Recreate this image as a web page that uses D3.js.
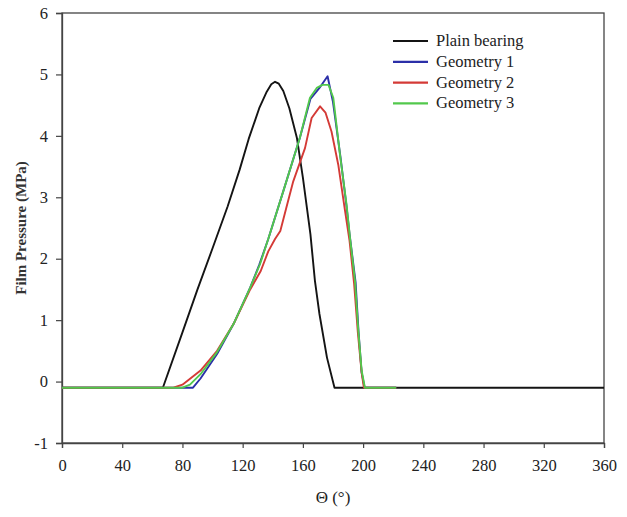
<!DOCTYPE html>
<html><head><meta charset="utf-8">
<script src="https://cdn.jsdelivr.net/npm/d3@7"></script>
<style>body{margin:0;background:#fff}svg{display:block}</style>
</head><body>
<svg id="c" width="627" height="517"></svg>
<script>
const xTicks = [0,40,80,120,160,200,240,280,320,360];
const yTicks = [-1,0,1,2,3,4,5,6];
const seriesNames = ["Plain bearing","Geometry 1","Geometry 2","Geometry 3"];
const seriesColors = ["#141414","#2b2fa8","#d43a36","#52c84c"];

const plainTheta = [0,67,80,90,100,110,118,124,131,136,139,141.5,144,147,151,156,160,165,168,171,176,181,360];
const plainP     = [-0.1,-0.1,0.8,1.5,2.17,2.85,3.45,3.95,4.45,4.72,4.84,4.88,4.85,4.73,4.45,3.97,3.32,2.4,1.64,1.1,0.39,-0.1,-0.1];

const geo1Theta = [0,87,92,103,114,125,131,137,147,158,165,169,171,176.4,180,185,189,191,195,197,199,201,222];
const geo1P     = [-0.1,-0.1,0.05,0.45,0.94,1.53,1.9,2.32,3.1,3.97,4.6,4.72,4.78,4.97,4.55,3.65,2.85,2.4,1.62,0.8,0.15,-0.1,-0.1];

const geo2Theta = [0,74,80,92,103,114,125,132,137,141.5,145,149,153.6,161.4,165.8,171.4,175,179,183.5,188,191,194,196.5,199,200.5,222];
const geo2P     = [-0.1,-0.1,-0.05,0.18,0.5,0.94,1.5,1.8,2.12,2.32,2.45,2.83,3.26,3.8,4.29,4.48,4.38,4.07,3.53,2.78,2.29,1.6,0.8,0.15,-0.1,-0.1];

const geo3Theta = [0,80,85,92,103,114,125,131.5,137,147,158,164.7,169.2,173,177,180.2,184.6,189,191.3,194.6,196.8,199,201.2,222];
const geo3P     = [-0.1,-0.1,-0.05,0.12,0.48,0.94,1.53,1.91,2.32,3.1,3.97,4.62,4.78,4.83,4.83,4.62,3.7,2.88,2.34,1.64,0.83,0.18,-0.1,-0.1];

const series = [
  {theta: plainTheta, p: plainP},
  {theta: geo1Theta, p: geo1P},
  {theta: geo2Theta, p: geo2P},
  {theta: geo3Theta, p: geo3P}
];

const svg = d3.select("#c");
const L = 62, R = 604, T = 13, B = 443;
const x = d3.scaleLinear().domain([0,360]).range([L,R]);
const y = d3.scaleLinear().domain([-1,6]).range([B,T]);
const font = "'Liberation Serif', 'Times New Roman', serif";

// frame
svg.append("rect").attr("x",L).attr("y",T).attr("width",R-L).attr("height",B-T)
  .attr("fill","none").attr("stroke","#444").attr("stroke-width",1.3);

const xAxis = svg.append("g").attr("transform",`translate(0,${B})`)
  .call(d3.axisBottom(x).tickValues(xTicks).tickSize(5).tickPadding(11).tickFormat(d=>String(d)));
const yAxis = svg.append("g").attr("transform",`translate(${L},0)`)
  .call(d3.axisLeft(y).tickValues(yTicks).tickSize(6).tickPadding(8).tickFormat(d=>String(d)));
[xAxis,yAxis].forEach(a=>{
  a.select(".domain").attr("stroke","#444").attr("stroke-width",1.3);
  a.selectAll(".tick line").attr("stroke","#444").attr("stroke-width",1.2);
  a.selectAll(".tick text").attr("font-family",font).attr("font-size",16.5).attr("fill","#222");
});

const line = d3.line().x(d=>x(d[0])).y(d=>y(d[1]));
series.forEach((s,i)=>{
  const pts = s.theta.map((t,j)=>[t,s.p[j]]);
  svg.append("path").datum(pts).attr("d",line).attr("fill","none")
    .attr("stroke",seriesColors[i]).attr("stroke-width",1.9).attr("stroke-linejoin","round");
});

// legend
const lg = svg.append("g");
seriesNames.forEach((n,i)=>{
  const yy = 41 + i*20.8;
  lg.append("line").attr("x1",393).attr("x2",428).attr("y1",yy).attr("y2",yy)
    .attr("stroke",seriesColors[i]).attr("stroke-width",2.2);
  lg.append("text").attr("x",436).attr("y",yy+5).text(n)
    .attr("font-family",font).attr("font-size",16.5).attr("fill","#222");
});

// axis titles
svg.append("text").attr("transform",`translate(26,${(T+B)/2}) rotate(-90)`)
  .attr("text-anchor","middle").attr("font-family",font).attr("font-size",15).attr("font-weight","bold")
  .attr("fill","#333").text("Film Pressure (MPa)");
svg.append("text").attr("x",333).attr("y",503).attr("text-anchor","middle")
  .attr("font-family",font).attr("font-size",17).attr("fill","#222").text("Θ (°)");
</script>
</body></html>
